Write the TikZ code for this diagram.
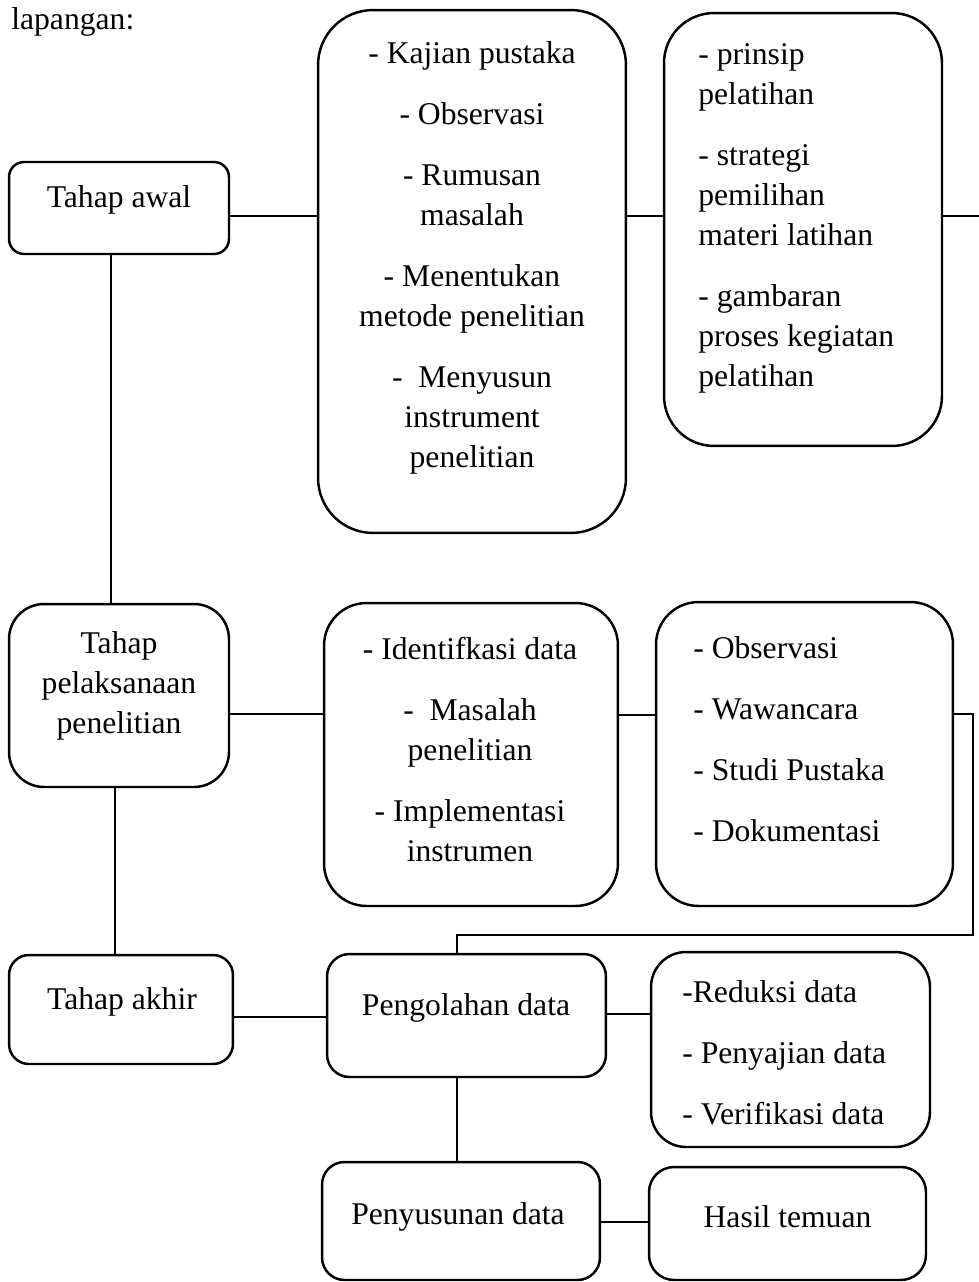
\documentclass[tikz,border=0pt]{standalone}
\usepackage{fontspec}
\setmainfont{Liberation Serif}
\usetikzlibrary{positioning,calc}

\begin{document}
\begin{tikzpicture}[x=0.02cm, y=-0.02cm,
  box/.style={draw, line width=1.4pt, rounded corners=#1, inner sep=0pt},
  txt/.style={inner sep=0pt, align=center, font=\fontsize{18}{22.76}\selectfont},
  link/.style={line width=0.6pt}]
  \useasboundingbox (0,0) rectangle (979,1282);
  \node[txt, anchor=base west] (judul) at (11,29) {lapangan:};

  % kotak tahap (kolom kiri)
  \node[box=0.3cm, minimum width=4.4cm, minimum height=1.84cm] (awal) at (119,208) {};
  \node[box=0.7cm, minimum width=4.4cm, minimum height=3.66cm] (laksana) at (119,695.5) {};
  \node[box=0.4cm, minimum width=4.48cm, minimum height=2.18cm] (akhir) at (121,1009.5) {};
  \node[txt, anchor=base] (awal-t) at (119,207) {Tahap awal};
  \node[txt, anchor=north] (laksana-t) at (119,631.4) {Tahap\\pelaksanaan\\penelitian};
  \node[txt, anchor=base] (akhir-t) at (122,1009) {Tahap akhir};

  % kotak rincian
  \node[box=1.1cm, minimum width=6.16cm, minimum height=10.46cm] (kajian) at (472,271.5) {};
  \node[box=1.0cm, minimum width=5.56cm, minimum height=8.66cm] (prinsip) at (803,229.5) {};
  \node[box=0.85cm, minimum width=5.88cm, minimum height=6.06cm] (identi) at (471,754.5) {};
  \node[box=0.85cm, minimum width=5.94cm, minimum height=6.08cm] (obs) at (804.5,754) {};
  \node[box=0.45cm, minimum width=5.58cm, minimum height=2.46cm] (olah) at (466.5,1015.5) {};
  \node[box=0.7cm, minimum width=5.58cm, minimum height=3.9cm] (reduksi) at (790.5,1049.5) {};
  \node[box=0.45cm, minimum width=5.56cm, minimum height=2.36cm] (susun) at (461,1221) {};
  \node[box=0.5cm, minimum width=5.54cm, minimum height=2.26cm] (hasil) at (787.5,1223.5) {};

  \node[txt, anchor=north] (kajian-t) at (472,41.4)
    {- Kajian pustaka\\[12pt]- Observasi\\[12pt]- Rumusan\\masalah\\[12pt]- Menentukan\\metode penelitian\\[12pt]-\ \ Menyusun\\instrument\\penelitian};
  \node[txt, anchor=north west, align=left] (prinsip-t) at (698,43.4)
    {- prinsip\\pelatihan\\[12pt]- strategi\\pemilihan\\materi latihan\\[12pt]- gambaran\\proses kegiatan\\pelatihan};
  \node[txt, anchor=north] (identi-t) at (470,636.4)
    {- Identifkasi data\\[12pt]-\ \ Masalah\\penelitian\\[12pt]- Implementasi\\instrumen};
  \node[txt, anchor=north west, align=left] (obs-t) at (693,636.4)
    {- Observasi\\[12pt]- Wawancara\\[12pt]- Studi Pustaka\\[12pt]- Dokumentasi};
  \node[txt, anchor=base] (olah-t) at (466,1015) {Pengolahan data};
  \node[txt, anchor=north west, align=left] (reduksi-t) at (682,980.4)
    {-Reduksi data\\[12pt]- Penyajian data\\[12pt]- Verifikasi data};
  \node[txt, anchor=base] (susun-t) at (458,1224) {Penyusunan data};
  \node[txt, anchor=base] (hasil-t) at (787.5,1227) {Hasil temuan};

  % garis penghubung
  \coordinate (keluar) at (979,216);
  \coordinate (belok) at (973,935);
  \draw[link] (awal.east |- 0,216) -- (kajian.west |- 0,216);
  \draw[link] (kajian.east |- 0,216) -- (prinsip.west |- 0,216);
  \draw[link] (prinsip.east |- keluar) -- (keluar);
  \draw[link] (awal.south -| 111,0) -- (laksana.north -| 111,0);
  \draw[link] (laksana.east |- 0,714) -- (identi.west |- 0,714);
  \draw[link] (identi.east |- 0,715) -- (obs.west |- 0,715);
  \draw[link] (obs.east |- 0,714) -| (belok) -| (olah.north -| 457,0);
  \draw[link] (laksana.south -| 115,0) -- (akhir.north -| 115,0);
  \draw[link] (akhir.east |- 0,1017) -- (olah.west |- 0,1017);
  \draw[link] (olah.east |- 0,1014) -- (reduksi.west |- 0,1014);
  \draw[link] (olah.south -| 457,0) -- (susun.north -| 457,0);
  \draw[link] (susun.east |- 0,1222) -- (hasil.west |- 0,1222);
\end{tikzpicture}
\end{document}
